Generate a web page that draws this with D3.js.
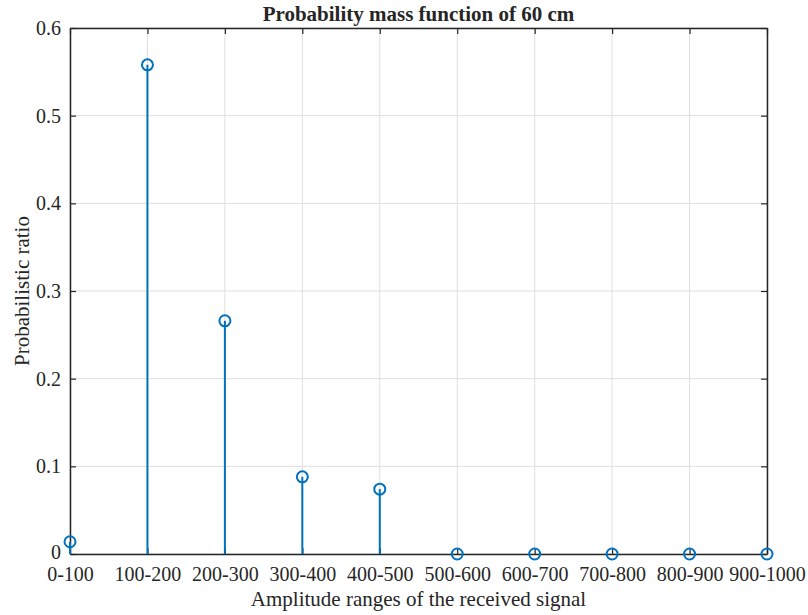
<!DOCTYPE html>
<html>
<head>
<meta charset="utf-8">
<script src="https://cdn.jsdelivr.net/npm/d3@7/dist/d3.min.js"></script>
<style>
  html, body { margin: 0; padding: 0; background: #fff; }
  svg { display: block; }
  text { font-family: "Liberation Serif", "Times New Roman", serif; fill: #262626; }
</style>
</head>
<body>
<svg id="chart" width="808" height="615"></svg>
<script>
// Amplitude bins and their probability
const categories = ["0-100", "100-200", "200-300", "300-400", "400-500",
                    "500-600", "600-700", "700-800", "800-900", "900-1000"];
const probabilities = [0.014, 0.558, 0.266, 0.088, 0.074, 0, 0, 0, 0, 0];
const yTicks = [0, 0.1, 0.2, 0.3, 0.4, 0.5, 0.6];

const titleText = "Probability mass function of 60 cm";
const xLabelText = "Amplitude ranges of the received signal";
const yLabelText = "Probabilistic ratio";

const svg = d3.select("#chart");
const margin = { left: 70, top: 28, right: 808 - 767, bottom: 615 - 554 };
const W = 808 - margin.left - margin.right;
const H = 615 - margin.top - margin.bottom;

const axisColor = "#262626";
const stemColor = "#0072BD";

const x = d3.scaleLinear().domain([1, categories.length]).range([0, W]);
const y = d3.scaleLinear().domain([0, 0.6]).range([H, 0]);

const g = svg.append("g").attr("transform", `translate(${margin.left},${margin.top})`);

// grid lines
g.append("g").selectAll("line.vgrid")
  .data(categories.map((c, i) => i + 1))
  .join("line")
  .attr("x1", d => x(d)).attr("x2", d => x(d))
  .attr("y1", 0).attr("y2", H)
  .attr("stroke", "#dedede").attr("stroke-width", 1);
g.append("g").selectAll("line.hgrid")
  .data(yTicks)
  .join("line")
  .attr("x1", 0).attr("x2", W)
  .attr("y1", d => y(d)).attr("y2", d => y(d))
  .attr("stroke", "#dedede").attr("stroke-width", 1);

// axes (ticks point inward, box on all four sides)
const tickLen = 6;
const xAxisB = d3.axisBottom(x).tickValues(categories.map((c, i) => i + 1))
  .tickFormat(d => categories[d - 1]).tickSizeInner(-tickLen).tickSizeOuter(0).tickPadding(13);
const xAxisT = d3.axisTop(x).tickValues(categories.map((c, i) => i + 1))
  .tickFormat("").tickSizeInner(-tickLen).tickSizeOuter(0);
const yAxisL = d3.axisLeft(y).tickValues(yTicks)
  .tickFormat(d => d === 0 ? "0" : d3.format(".1f")(d)).tickSizeInner(-tickLen).tickSizeOuter(0).tickPadding(9);
const yAxisR = d3.axisRight(y).tickValues(yTicks)
  .tickFormat("").tickSizeInner(-tickLen).tickSizeOuter(0);

function styleAxis(sel) {
  sel.select(".domain").attr("stroke", axisColor).attr("stroke-width", 1.5);
  sel.selectAll(".tick line").attr("stroke", axisColor).attr("stroke-width", 1.2);
  sel.selectAll(".tick text")
    .attr("font-family", "'Liberation Serif', 'Times New Roman', serif")
    .attr("font-size", 20).attr("fill", axisColor);
}

g.append("g").attr("transform", `translate(0,${H})`).call(xAxisB).call(styleAxis);
g.append("g").call(xAxisT).call(styleAxis);
const yAxisG = g.append("g").call(yAxisL).call(styleAxis);
// lift the zero label slightly so it clears the first category label
yAxisG.selectAll(".tick text").filter(d => d === 0).attr("dy", "0.2em");
g.append("g").attr("transform", `translate(${W},0)`).call(yAxisR).call(styleAxis);

// stems
const data = categories.map((c, i) => ({ pos: i + 1, v: probabilities[i] }));
g.append("g").selectAll("line.stem")
  .data(data)
  .join("line")
  .attr("x1", d => x(d.pos)).attr("x2", d => x(d.pos))
  .attr("y1", y(0)).attr("y2", d => y(d.v))
  .attr("stroke", stemColor).attr("stroke-width", 2);

// markers
g.append("g").selectAll("circle")
  .data(data)
  .join("circle")
  .attr("cx", d => x(d.pos)).attr("cy", d => y(d.v))
  .attr("r", 5.5)
  .attr("fill", "none").attr("stroke", stemColor).attr("stroke-width", 2);

// title and axis labels
svg.append("text")
  .attr("x", margin.left + W / 2).attr("y", 21)
  .attr("text-anchor", "middle")
  .attr("font-size", 21).attr("font-weight", "bold")
  .attr("fill", "#000")
  .text(titleText);

svg.append("text")
  .attr("x", margin.left + W / 2).attr("y", 606)
  .attr("text-anchor", "middle")
  .attr("font-size", 21)
  .text(xLabelText);

svg.append("text")
  .attr("transform", `translate(29,${margin.top + H / 2}) rotate(-90)`)
  .attr("text-anchor", "middle")
  .attr("font-size", 21)
  .text(yLabelText);
</script>
</body>
</html>
